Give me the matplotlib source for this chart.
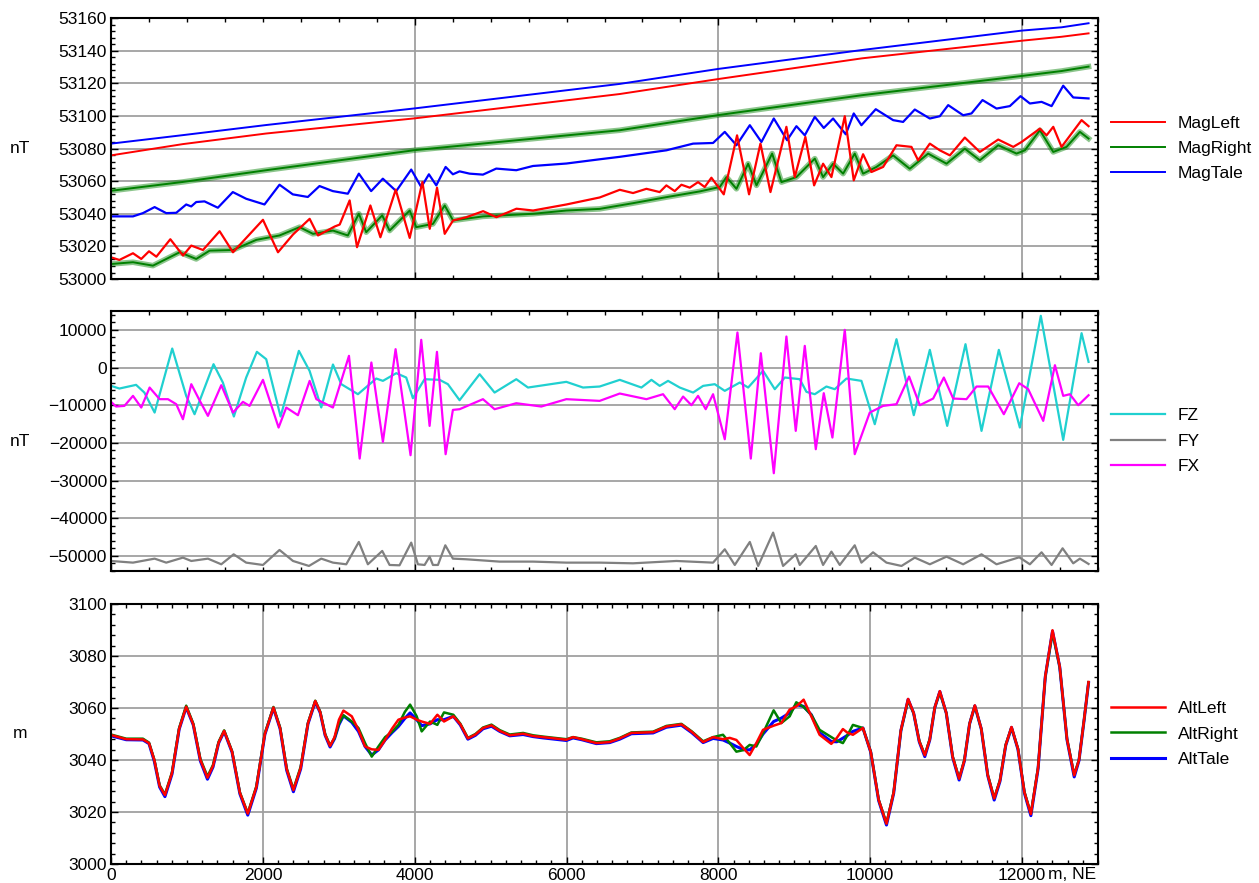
import matplotlib
matplotlib.use("Agg")
import matplotlib.pyplot as plt
from matplotlib.ticker import MultipleLocator

plt.rcParams['font.family'] = ['Liberation Sans', 'DejaVu Sans']

# ---------------- top panel: magnetic field, nT ----------------
# upper (trend) traces
trend_x = [0, 945, 2043, 4000, 6700, 8000, 9895, 12000, 12520, 12876]
mag_left_trend = [53075.8, 53082.7, 53089.2, 53098.5, 53113.4, 53122.6, 53135.3, 53146.1, 53148.5, 53150.6]
mag_right_trend = [53054.1, 53059.5, 53066.7, 53079.0, 53091.2, 53100.5, 53112.7, 53124.5, 53127.5, 53130.2]
mag_tale_trend = [53083.0, 53088.2, 53094.4, 53104.6, 53119.6, 53128.8, 53140.4, 53152.3, 53154.3, 53156.8]

# lower (wavy) traces
mag_left_x = [0, 110, 289, 398, 500, 597, 781, 948, 1057, 1211, 1430, 1606, 1781, 2001,
              2199, 2397, 2616, 2726, 2946, 3012, 3143, 3240, 3416, 3548, 3750, 3934,
              4101, 4198, 4294, 4395, 4505, 4681, 4901, 5076, 5340, 5559, 5998, 6437,
              6701, 6876, 7052, 7227, 7315, 7425, 7513, 7623, 7732, 7820, 7908, 8071,
              8246, 8404, 8554, 8686, 8896, 9006, 9146, 9261, 9379, 9489, 9665, 9783,
              9906, 10016, 10170, 10346, 10543, 10631, 10785, 10917, 11049, 11246,
              11444, 11686, 11884, 11993, 12235, 12323, 12411, 12520, 12784, 12876]
mag_left = [53013.3, 53011.7, 53015.8, 53012.3, 53017.0, 53013.7, 53024.4, 53014.4, 53020.5,
            53017.8, 53029.3, 53016.4, 53025.2, 53036.3, 53016.4, 53027.3, 53036.9, 53026.7,
            53032.2, 53033.4, 53048.2, 53019.5, 53045.1, 53025.6, 53054.8, 53025.2, 53059.5,
            53030.8, 53056.0, 53027.7, 53035.9, 53037.9, 53041.6, 53037.9, 53043.1, 53042.0,
            53045.7, 53050.0, 53054.7, 53052.7, 53055.3, 53053.3, 53057.4, 53053.9, 53057.8,
            53056.0, 53059.4, 53056.4, 53062.1, 53051.9, 53088.1, 53051.9, 53083.0, 53053.3,
            53093.3, 53062.5, 53087.1, 53057.4, 53070.7, 53062.5, 53099.8, 53060.5, 53076.5,
            53065.6, 53068.7, 53082.0, 53081.0, 53072.8, 53083.0, 53078.9, 53075.8, 53086.7,
            53077.9, 53085.5, 53081.0, 53084.0, 53092.2, 53088.1, 53093.3, 53081.0, 53097.4,
            53093.7]

mag_right_x = [0, 289, 552, 903, 1122, 1298, 1606, 1913, 2219, 2484, 2660, 2923, 3119, 3264,
               3361, 3572, 3669, 3934, 4020, 4240, 4395, 4505, 4901, 5559, 5998, 6437, 6876,
               7315, 7754, 8018, 8106, 8238, 8392, 8502, 8708, 8831, 9028, 9270, 9379, 9511,
               9643, 9796, 9906, 10082, 10302, 10521, 10763, 11005, 11246, 11444, 11686,
               11927, 12037, 12235, 12411, 12586, 12762, 12876]
mag_right = [53009.2, 53010.3, 53008.2, 53016.4, 53012.3, 53017.4, 53017.8, 53024.0, 53026.7,
             53031.8, 53027.7, 53029.7, 53026.7, 53040.0, 53028.7, 53039.0, 53029.7, 53042.0,
             53031.8, 53033.8, 53045.1, 53035.9, 53038.4, 53040.0, 53042.0, 53043.0, 53046.5,
             53050.2, 53053.7, 53056.4, 53062.5, 53055.3, 53070.7, 53057.4, 53076.9, 53059.4,
             53062.5, 53073.8, 53062.5, 53070.7, 53064.6, 53076.9, 53064.6, 53068.7, 53075.8,
             53067.6, 53076.9, 53070.7, 53079.9, 53072.8, 53082.0, 53076.9, 53078.9, 53091.2,
             53077.9, 53081.0, 53090.2, 53086.1]

mag_tale_x = [0, 289, 420, 574, 727, 859, 990, 1056, 1122, 1231, 1407, 1604, 1780, 2021,
              2219, 2394, 2592, 2746, 2921, 3119, 3264, 3426, 3580, 3756, 3954, 4086, 4187,
              4284, 4407, 4503, 4591, 4723, 4899, 5074, 5338, 5558, 5997, 6436, 6700, 7315,
              7667, 7930, 8084, 8238, 8414, 8567, 8730, 8905, 9028, 9138, 9270, 9388, 9511,
              9678, 9783, 9884, 10073, 10302, 10433, 10587, 10785, 10917, 11027, 11224,
              11334, 11479, 11664, 11839, 11980, 12103, 12257, 12389, 12542, 12674, 12876]
mag_tale = [53038.4, 53038.4, 53040.4, 53044.1, 53040.4, 53040.6, 53045.7, 53044.5, 53047.2,
            53047.6, 53043.7, 53053.3, 53049.2, 53045.7, 53057.8, 53051.9, 53050.3, 53057.0,
            53053.9, 53052.3, 53064.6, 53053.9, 53061.5, 53053.9, 53067.1, 53056.4, 53064.2,
            53057.4, 53068.7, 53064.2, 53066.0, 53064.6, 53064.0, 53067.7, 53066.7, 53069.3,
            53070.8, 53073.4, 53074.9, 53078.9, 53083.0, 53083.4, 53090.2, 53082.0, 53094.3,
            53084.0, 53098.4, 53085.1, 53093.7, 53088.1, 53099.4, 53092.6, 53098.4, 53088.7,
            53101.5, 53094.3, 53104.1, 53097.4, 53096.3, 53103.9, 53098.4, 53099.8, 53106.6,
            53100.4, 53101.5, 53109.7, 53104.5, 53106.0, 53112.1, 53107.6, 53108.6, 53106.0,
            53118.5, 53111.3, 53110.7]

# ---------------- middle panel: FZ / FY / FX, nT ----------------
fz_x = [0, 110, 330, 439, 574, 806, 990, 1100, 1350, 1473, 1618, 1780, 1921, 2044, 2233,
        2474, 2615, 2769, 2923, 3033, 3252, 3494, 3581, 3757, 3888, 3976, 4130, 4328, 4437,
        4591, 4855, 5052, 5338, 5492, 5997, 6217, 6436, 6701, 6986, 7118, 7227, 7337, 7491,
        7667, 7799, 7952, 8084, 8282, 8392, 8589, 8743, 8875, 9072, 9160, 9270, 9423, 9533,
        9687, 9884, 10060, 10346, 10574, 10785, 11014, 11255, 11466, 11694, 11971, 12247,
        12542, 12784, 12876]
fz = [-4870, -5575, -4600, -6640, -11950, 5040, -7520, -12390, 885, -3980, -13000, -2650,
      4160, 2210, -13000, 4420, -885, -10600, 800, -4420, -7080, -2920, -3540, -1500, -2650,
      -8140, -3100, -3270, -4420, -8670, -1770, -6640, -3100, -5310, -3800, -5310, -5040,
      -3270, -5310, -3270, -4870, -3540, -5310, -6640, -4870, -4420, -6190, -3980, -5310,
      -885, -5750, -2650, -3100, -6460, -7080, -5040, -5750, -2920, -3540, -15040, 7520,
      -12650, 4690, -15490, 6190, -16810, 4690, -15930, 13720, -19200, 9110, 1500]

fy_x = [0, 289, 574, 727, 947, 1057, 1276, 1452, 1615, 1780, 2001, 2219, 2397, 2607, 2769,
        2923, 3098, 3264, 3383, 3572, 3669, 3800, 3954, 4042, 4130, 4196, 4240, 4306, 4403,
        4503, 4679, 5118, 5559, 5997, 6437, 6876, 7447, 7930, 8084, 8216, 8414, 8524, 8721,
        8852, 9019, 9072, 9283, 9379, 9489, 9599, 9796, 9884, 10037, 10214, 10412, 10587,
        10785, 11005, 11224, 11466, 11664, 11963, 12103, 12257, 12389, 12534, 12674, 12762,
        12876]
fy = [-51330, -51770, -50710, -51770, -50440, -51330, -50710, -52210, -49560, -51770, -52390,
      -48410, -51330, -52650, -50710, -51770, -52210, -46280, -52210, -48670, -52390, -52480,
      -46460, -52210, -52390, -50180, -52390, -52390, -47170, -50710, -50880, -51500, -51500,
      -51770, -51770, -51950, -51330, -51770, -48230, -52390, -46280, -52650, -43800, -52650,
      -49560, -52390, -47350, -52390, -48850, -52390, -47170, -51770, -49030, -51770, -52650,
      -50440, -52210, -50180, -52210, -49560, -52210, -50350, -52210, -49030, -52390, -47970,
      -51950, -50710, -52120]

fx_x = [0, 66, 176, 289, 398, 508, 640, 750, 859, 947, 1057, 1158, 1276, 1452, 1606, 1737,
        1825, 2001, 2207, 2308, 2462, 2616, 2704, 2923, 3134, 3275, 3429, 3581, 3748, 3945,
        4086, 4196, 4293, 4407, 4503, 4591, 4745, 4899, 5052, 5338, 5667, 5997, 6436, 6701,
        7052, 7271, 7425, 7535, 7645, 7732, 7833, 7930, 8084, 8251, 8427, 8559, 8730, 8896,
        9019, 9138, 9283, 9388, 9502, 9665, 9796, 9994, 10170, 10346, 10512, 10653, 10829,
        10970, 11093, 11268, 11400, 11554, 11760, 11963, 12081, 12279, 12433, 12542, 12630,
        12740, 12876]
fx = [-9110, -10350, -10180, -7520, -10620, -5310, -8400, -8400, -9730, -13720, -4420, -8400,
      -12830, -4690, -11950, -9110, -10180, -3270, -15930, -10620, -12650, -3540, -8400,
      -10620, 3100, -24160, 1330, -19730, 4870, -23270, 7350, -15490, 4160, -23000, -11240,
      -11060, -9730, -8400, -11060, -9470, -10350, -8400, -8850, -6900, -8400, -7080, -11060,
      -7700, -10000, -7520, -11060, -7080, -19030, 9290, -24160, 3800, -28050, 8230, -16810,
      5750, -21680, -6810, -18580, 10000, -23000, -11950, -10180, -9730, -2390, -10000, -8230,
      -2650, -8230, -8400, -5040, -5040, -12390, -4160, -5750, -14160, 620, -7520, -7080,
      -10000, -7350]

# ---------------- bottom panel: altitude, m ----------------
alt_x = [0, 200, 420, 500, 570, 640, 710, 803, 897, 990, 1083, 1177, 1270, 1343, 1417, 1490,
         1594, 1697, 1801, 1914, 2026, 2139, 2227, 2314, 2402, 2498, 2594, 2690, 2755, 2820,
         2885, 2944, 3002, 3061, 3171, 3259, 3346, 3434, 3522, 3610, 3700, 3785, 3870, 3939,
         4026, 4092, 4202, 4298, 4386, 4509, 4600, 4700, 4800, 4900, 5011, 5120, 5252, 5428,
         5560, 5691, 5998, 6086, 6200, 6393, 6569, 6700, 6854, 7140, 7315, 7513, 7650, 7799,
         7930, 8061, 8150, 8237, 8330, 8412, 8500, 8588, 8728, 8829, 8939, 9026, 9123, 9224,
         9333, 9487, 9560, 9640, 9700, 9772, 9904, 10007, 10111, 10214, 10309, 10404, 10499,
         10572, 10646, 10719, 10785, 10851, 10917, 11002, 11086, 11171, 11240, 11309, 11378,
         11463, 11548, 11633, 11709, 11785, 11861, 11946, 12031, 12116, 12211, 12306, 12401,
         12496, 12592, 12687, 12750, 12815, 12876]
alt_tale = [3049.3, 3047.8, 3047.7, 3046.3, 3039.5, 3029.6, 3025.9, 3034.6, 3051.8, 3060.3,
            3053.5, 3039.6, 3032.6, 3037.3, 3046.5, 3051.0, 3043.0, 3027.0, 3018.8, 3029.2,
            3049.8, 3060.0, 3052.0, 3036.0, 3027.8, 3036.6, 3053.9, 3062.4, 3058.2, 3049.5,
            3045.0, 3048.2, 3053.6, 3057.0, 3054.5, 3051.0, 3045.2, 3041.9, 3043.9, 3047.7,
            3050.5, 3052.9, 3056.0, 3058.1, 3055.5, 3053.2, 3053.9, 3055.5, 3055.5, 3056.8,
            3053.5, 3048.0, 3049.5, 3052.0, 3053.0, 3051.0, 3049.3, 3049.8, 3049.0, 3048.5,
            3047.5, 3048.5, 3047.8, 3046.3, 3046.7, 3048.0, 3050.1, 3050.4, 3052.6, 3053.4,
            3050.5, 3046.7, 3048.3, 3047.7, 3046.5, 3045.2, 3044.0, 3043.9, 3046.0, 3050.0,
            3054.8, 3056.1, 3058.1, 3061.3, 3060.6, 3057.4, 3050.5, 3047.1, 3047.0, 3048.4,
            3049.5, 3051.0, 3052.3, 3043.0, 3024.4, 3015.0, 3027.2, 3051.3, 3063.3, 3058.0,
            3047.0, 3041.3, 3047.8, 3060.2, 3066.3, 3058.0, 3041.0, 3032.3, 3039.6, 3053.9,
            3060.8, 3051.9, 3034.0, 3024.6, 3031.8, 3045.6, 3052.5, 3044.1, 3027.3, 3018.6,
            3036.6, 3072.0, 3089.5, 3075.8, 3047.8, 3033.5, 3039.8, 3054.8, 3069.7]
alt_left = [3049.6, 3048.0, 3047.9, 3046.5, 3040.0, 3030.0, 3026.5, 3035.0, 3052.0, 3060.5,
            3053.7, 3040.0, 3033.2, 3037.7, 3046.7, 3051.2, 3043.2, 3027.4, 3019.4, 3029.6,
            3050.0, 3060.2, 3052.2, 3036.4, 3028.4, 3037.0, 3054.1, 3062.7, 3058.4, 3049.7,
            3045.4, 3048.8, 3055.5, 3059.0, 3056.8, 3051.6, 3045.2, 3044.1, 3043.9, 3047.7,
            3052.0, 3055.5, 3056.3, 3056.8, 3055.5, 3054.8, 3053.9, 3057.4, 3054.8, 3056.8,
            3053.8, 3048.3, 3049.8, 3052.3, 3053.3, 3051.2, 3049.5, 3050.1, 3049.2, 3048.8,
            3047.8, 3048.8, 3048.0, 3046.5, 3046.9, 3048.3, 3050.4, 3050.7, 3052.9, 3053.7,
            3050.8, 3046.9, 3048.8, 3048.0, 3048.5, 3047.7, 3044.5, 3041.9, 3046.5, 3051.6,
            3053.2, 3054.2, 3059.4, 3060.6, 3063.2, 3056.8, 3049.7, 3046.2, 3048.5, 3051.9,
            3050.5, 3049.7, 3052.3, 3043.1, 3024.7, 3015.5, 3027.5, 3051.5, 3063.5, 3058.1,
            3047.2, 3041.8, 3048.0, 3060.3, 3066.5, 3058.1, 3041.2, 3032.8, 3039.8, 3054.0,
            3061.0, 3052.0, 3034.2, 3025.2, 3032.1, 3045.8, 3052.7, 3044.3, 3027.6, 3019.2,
            3036.9, 3072.2, 3089.9, 3076.0, 3048.0, 3034.1, 3040.0, 3055.0, 3070.0]
alt_right = [3049.8, 3048.2, 3048.2, 3046.7, 3040.2, 3030.3, 3026.8, 3035.3, 3052.3, 3060.9,
             3054.0, 3040.4, 3033.7, 3038.1, 3047.0, 3051.4, 3043.4, 3027.6, 3019.6, 3029.9,
             3050.3, 3060.4, 3052.5, 3036.8, 3028.8, 3037.4, 3054.3, 3062.8, 3058.6, 3050.0,
             3045.6, 3048.4, 3054.0, 3057.2, 3054.8, 3052.3, 3046.5, 3041.3, 3045.2, 3048.8,
             3050.8, 3053.5, 3058.5, 3061.3, 3056.8, 3051.0, 3054.8, 3053.5, 3058.3, 3057.4,
             3054.0, 3048.5, 3050.0, 3052.5, 3053.6, 3051.5, 3049.8, 3050.4, 3049.5, 3049.0,
             3048.0, 3048.8, 3048.2, 3046.8, 3047.2, 3048.5, 3050.6, 3050.9, 3053.1, 3053.9,
             3051.0, 3047.2, 3048.8, 3049.7, 3046.5, 3043.2, 3043.8, 3045.8, 3045.2, 3050.3,
             3059.1, 3054.2, 3056.8, 3062.2, 3060.4, 3057.4, 3051.6, 3048.8, 3047.5, 3046.5,
             3049.5, 3053.5, 3052.3, 3043.2, 3024.8, 3015.7, 3027.7, 3051.3, 3063.0, 3058.0,
             3047.4, 3042.0, 3048.2, 3060.3, 3066.0, 3058.1, 3041.4, 3033.0, 3040.0, 3054.0,
             3060.8, 3052.0, 3034.4, 3025.4, 3032.3, 3045.9, 3052.5, 3044.4, 3027.8, 3019.4,
             3037.1, 3072.0, 3089.0, 3075.8, 3048.2, 3034.3, 3040.2, 3055.0, 3069.9]

RED, GREEN, BLUE = '#ff0000', '#008000', '#0000ff'
GRID = '#a0a0a0'
FS = 12.5

fig = plt.figure(figsize=(12.59, 8.83), dpi=100)
left, width = 0.0882, 0.7839
ax1 = fig.add_axes([left, 0.6840, width, 0.2956])
ax2 = fig.add_axes([left, 0.3533, width, 0.2945])
ax3 = fig.add_axes([left, 0.0215, width, 0.2945])

# top
ax1.plot(trend_x, mag_left_trend, color=RED, lw=1.4, label='MagLeft')
ax1.plot(trend_x, mag_right_trend, color=GREEN, lw=4, alpha=0.45)
ax1.plot(trend_x, mag_right_trend, color=GREEN, lw=1.4, label='MagRight')
ax1.plot(trend_x, mag_tale_trend, color=BLUE, lw=1.4, label='MagTale')
ax1.plot(mag_right_x, mag_right, color=GREEN, lw=4, alpha=0.45)
ax1.plot(mag_right_x, mag_right, color=GREEN, lw=1.4)
ax1.plot(mag_tale_x, mag_tale, color=BLUE, lw=1.6)
ax1.plot(mag_left_x, mag_left, color=RED, lw=1.6)
ax1.set_ylim(53000, 53160)
ax1.yaxis.set_major_locator(MultipleLocator(20))
ax1.yaxis.set_minor_locator(MultipleLocator(4))

# middle
l_fz, = ax2.plot(fz_x, fz, color='#20d0d0', lw=1.6, label='FZ')
l_fy, = ax2.plot(fy_x, fy, color='#808080', lw=1.6, label='FY')
l_fx, = ax2.plot(fx_x, fx, color='#ff00ff', lw=1.6, label='FX')
ax2.set_ylim(-54000, 15000)
ax2.yaxis.set_major_locator(MultipleLocator(10000))
ax2.yaxis.set_minor_locator(MultipleLocator(2000))

# bottom
l_at, = ax3.plot(alt_x, alt_tale, color=BLUE, lw=2.2, label='AltTale')
l_ar, = ax3.plot(alt_x, alt_right, color=GREEN, lw=1.8, label='AltRight')
l_al, = ax3.plot(alt_x, alt_left, color=RED, lw=1.8, label='AltLeft')
ax3.set_ylim(3000, 3100)
ax3.yaxis.set_major_locator(MultipleLocator(20))
ax3.yaxis.set_minor_locator(MultipleLocator(4))

for ax in (ax1, ax2):
    ax.xaxis.set_major_locator(MultipleLocator(4000))
    ax.xaxis.set_minor_locator(MultipleLocator(500))
    ax.tick_params(axis='x', labelbottom=False)
ax3.xaxis.set_major_locator(MultipleLocator(2000))
ax3.xaxis.set_minor_locator(MultipleLocator(200))

for ax in (ax1, ax2, ax3):
    ax.set_xlim(0, 13000)
    ax.grid(True, which='major', color=GRID, lw=1.3)
    ax.set_axisbelow(True)
    ax.tick_params(which='both', direction='in', top=True, right=True, width=1,
                   labelsize=FS, pad=3)
    ax.tick_params(which='major', length=5)
    ax.tick_params(which='minor', length=3)
    for s in ax.spines.values():
        s.set_linewidth(1.5)
    ax.yaxis.set_label_coords(-0.092, 0.5)

ax1.set_ylabel('nT', rotation=0, fontsize=FS, va='center')
ax2.set_ylabel('nT', rotation=0, fontsize=FS, va='center')
ax3.set_ylabel('m', rotation=0, fontsize=FS, va='center')

leg_kw = dict(loc='center left', bbox_to_anchor=(1.013, 0.5), frameon=False,
              fontsize=FS, handlelength=3.1, handletextpad=0.75, labelspacing=0.58,
              borderaxespad=0, borderpad=0)
ax1.legend(**leg_kw)
ax2.legend(handles=[l_fz, l_fy, l_fx], **leg_kw)
ax3.legend(handles=[l_al, l_ar, l_at], **leg_kw)

fig.canvas.draw()
ax3.get_xticklabels()[0].set_ha('left')
ax3.text(0.998, -0.012, 'm, NE', transform=ax3.transAxes, ha='right', va='top', fontsize=FS)

fig.savefig('out.png', dpi=100)
